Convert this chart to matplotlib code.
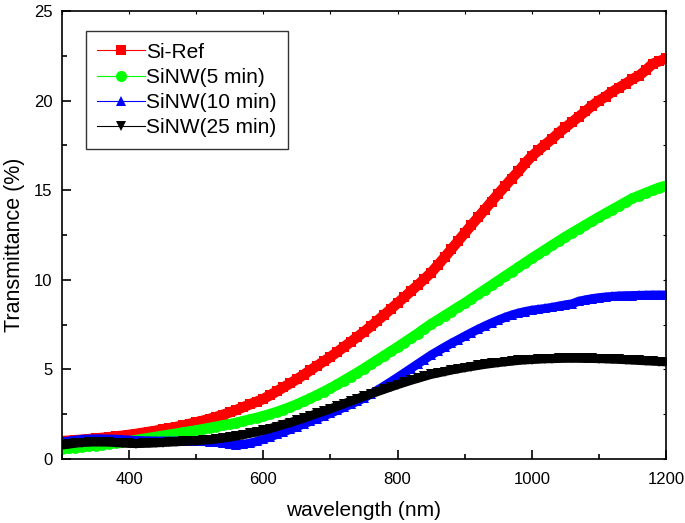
import numpy as np
import matplotlib
matplotlib.use("Agg")
import matplotlib.pyplot as plt
from matplotlib.ticker import MultipleLocator

wavelength = list(range(300, 1201, 10))

si_ref = [1.00, 1.02, 1.05, 1.08, 1.11, 1.15, 1.18, 1.22, 1.26, 1.30,
          1.35, 1.40, 1.46, 1.52, 1.58, 1.65, 1.72, 1.79, 1.87, 1.96,
          2.05, 2.14, 2.24, 2.35, 2.47, 2.60, 2.74, 2.89, 3.05, 3.20,
          3.35, 3.56, 3.78, 4.00, 4.22, 4.45, 4.70, 4.95, 5.20, 5.45,
          5.70, 5.97, 6.25, 6.53, 6.81, 7.10, 7.40, 7.72, 8.04, 8.37,
          8.70, 9.03, 9.37, 9.70, 10.05, 10.40, 10.82, 11.25, 11.70, 12.15,
          12.60, 13.05, 13.48, 13.92, 14.36, 14.80, 15.22, 15.65, 16.05, 16.50,
          16.90, 17.22, 17.55, 17.85, 18.20, 18.50, 18.80, 19.10, 19.40, 19.72,
          20.00, 20.22, 20.50, 20.72, 20.95, 21.20, 21.40, 21.70, 22.05, 22.20,
          22.35]

sinw_5 = [0.55, 0.59, 0.63, 0.67, 0.71, 0.75, 0.80, 0.85, 0.90, 0.95,
          1.00, 1.06, 1.12, 1.18, 1.24, 1.30, 1.36, 1.42, 1.48, 1.54,
          1.60, 1.67, 1.74, 1.81, 1.88, 1.95, 2.03, 2.12, 2.21, 2.30,
          2.40, 2.51, 2.63, 2.76, 2.90, 3.05, 3.22, 3.39, 3.57, 3.76,
          3.95, 4.16, 4.38, 4.60, 4.82, 5.05, 5.29, 5.53, 5.77, 6.01,
          6.25, 6.50, 6.75, 7.00, 7.27, 7.53, 7.76, 8.00, 8.23, 8.47,
          8.70, 8.95, 9.20, 9.45, 9.70, 9.95, 10.20, 10.45, 10.70, 10.95,
          11.20, 11.44, 11.68, 11.92, 12.16, 12.40, 12.62, 12.84, 13.06, 13.28,
          13.50, 13.71, 13.92, 14.13, 14.34, 14.55, 14.70, 14.85, 15.00, 15.15,
          15.25]

sinw_10 = [0.95, 1.00, 1.05, 1.09, 1.11, 1.12, 1.12, 1.11, 1.10, 1.08,
           1.05, 1.03, 1.02, 1.01, 1.00, 1.00, 1.00, 1.00, 1.00, 1.00,
           1.00, 0.99, 0.97, 0.93, 0.87, 0.82, 0.80, 0.82, 0.88, 0.98,
           1.10, 1.23, 1.37, 1.51, 1.65, 1.80, 1.95, 2.10, 2.25, 2.40,
           2.55, 2.71, 2.88, 3.05, 3.22, 3.40, 3.62, 3.84, 4.07, 4.31,
           4.55, 4.80, 5.05, 5.30, 5.55, 5.80, 6.02, 6.24, 6.45, 6.65,
           6.85, 7.05, 7.24, 7.42, 7.59, 7.75, 7.90, 8.03, 8.14, 8.23,
           8.30, 8.35, 8.40, 8.46, 8.53, 8.60, 8.66, 8.80, 8.88, 8.95,
           9.00, 9.04, 9.07, 9.10, 9.11, 9.12, 9.13, 9.14, 9.15, 9.15,
           9.15]

sinw_25 = [0.78, 0.83, 0.88, 0.92, 0.94, 0.95, 0.95, 0.94, 0.92, 0.89,
           0.87, 0.86, 0.87, 0.88, 0.90, 0.92, 0.94, 0.96, 0.98, 1.00,
           1.02, 1.05, 1.08, 1.12, 1.17, 1.22, 1.28, 1.35, 1.43, 1.51,
           1.60, 1.70, 1.81, 1.92, 2.03, 2.15, 2.28, 2.41, 2.54, 2.67,
           2.80, 2.94, 3.08, 3.22, 3.36, 3.50, 3.63, 3.76, 3.89, 4.02,
           4.15, 4.27, 4.39, 4.50, 4.61, 4.72, 4.80, 4.88, 4.96, 5.03,
           5.10, 5.16, 5.22, 5.28, 5.33, 5.38, 5.42, 5.46, 5.50, 5.53,
           5.55, 5.57, 5.59, 5.60, 5.61, 5.62, 5.62, 5.62, 5.61, 5.61,
           5.60, 5.59, 5.57, 5.56, 5.54, 5.52, 5.50, 5.48, 5.46, 5.44,
           5.42]

labels = ["Si-Ref", "SiNW(5 min)", "SiNW(10 min)", "SiNW(25 min)"]
colors = ["#FF0000", "#00FF00", "#0000FF", "#000000"]
markers = ["s", "o", "^", "v"]
series = [si_ref, sinw_5, sinw_10, sinw_25]
msizes = [7.8, 7.8, 7.2, 7.2]
band_w = [7.5, 7.4, 6.5, 6.5]
leg_ms = [7.0, 8.0, 7.5, 7.5]

plt.rcParams['font.family'] = ['Liberation Sans', 'DejaVu Sans']

fig = plt.figure(figsize=(6.85, 5.23), dpi=100)
ax = fig.add_axes([62/685, 1 - 459/523, (666 - 62)/685, (459 - 11)/523])

for y, c, m, lab, ms, bw in zip(series, colors, markers, labels, msizes, band_w):
    # dense band of overlapping symbols, as in the original scan
    ax.plot(wavelength, y, color=c, linewidth=bw, solid_capstyle='butt',
            solid_joinstyle='round')
    ax.plot(wavelength, y, color=c, marker=m, markersize=ms, linewidth=0.8,
            markeredgewidth=0, label=lab)

ax.set_xlim(300, 1200)
ax.set_ylim(0, 25)
ax.set_xticks([400, 600, 800, 1000, 1200])
ax.xaxis.set_minor_locator(MultipleLocator(100))
ax.yaxis.set_major_locator(MultipleLocator(5))
ax.yaxis.set_minor_locator(MultipleLocator(2.5))
ax.tick_params(which='both', direction='in', width=1.2, labelsize=12)
ax.tick_params(axis='x', which='both', pad=9.5)
ax.tick_params(axis='y', which='both', pad=7)
ax.tick_params(which='major', length=6.5)
ax.tick_params(which='minor', length=3.5)
for s in ax.spines.values():
    s.set_linewidth(1.2)

# small ticks on top and right axes
top = ax.secondary_xaxis('top')
top.set_xticks([400, 600, 800, 1000, 1200])
top.xaxis.set_minor_locator(MultipleLocator(100))
top.tick_params(which='both', direction='in', length=2, width=0.8,
                labeltop=False)
top.spines['top'].set_visible(False)
right = ax.secondary_yaxis('right')
right.yaxis.set_major_locator(MultipleLocator(5))
right.yaxis.set_minor_locator(MultipleLocator(2.5))
right.tick_params(which='both', direction='in', length=2, width=0.8,
                  labelright=False)
right.spines['right'].set_visible(False)

ax.set_xlabel("wavelength (nm)", fontsize=15, labelpad=10)
ax.set_ylabel("Transmittance (%)", fontsize=15.5)
ax.yaxis.set_label_coords(-0.062, 0.478)

leg = ax.legend(loc='upper left', bbox_to_anchor=(0.0397, 0.955), fontsize=15,
                frameon=True, fancybox=False, edgecolor='black',
                handlelength=2.3, handletextpad=0.02, labelspacing=0.3,
                borderpad=0.55, borderaxespad=0.0)
leg.get_frame().set_linewidth(1.0)
for h, ms in zip(leg.legend_handles, leg_ms):
    h.set_markersize(ms)

fig.savefig("out.png", dpi=100)
